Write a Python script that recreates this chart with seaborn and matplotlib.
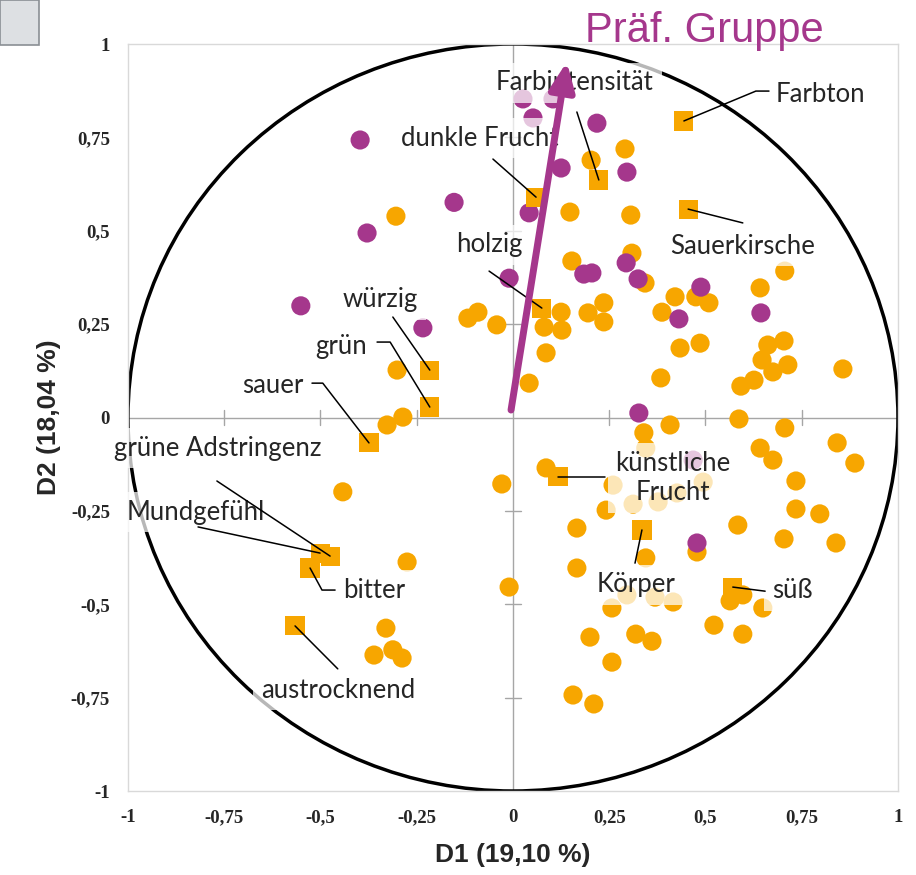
import matplotlib.pyplot as plt
import numpy as np
import pandas as pd
import seaborn as sns
from matplotlib.patches import Circle, Rectangle

# consumers (orange circles)
cons_x = [-0.304, -0.301, -0.327, -0.286, -0.442, -0.275, -0.330, -0.361, -0.312, -0.288,
          0.291, 0.203, 0.148, 0.306, 0.153, 0.309, 0.343, -0.117, -0.091, -0.042,
          0.081, 0.125, 0.127, 0.195, 0.236, 0.236, 0.387, 0.421, 0.086, 0.042,
          0.384, 0.340, 0.408,
          0.706, 0.642, 0.475, 0.509, 0.434, 0.486, 0.662, 0.704, 0.647, 0.675,
          0.714, 0.626, 0.592, 0.857, 0.587, 0.706, 0.842, 0.888, 0.642, 0.675,
          0.086, -0.029, 0.735, 0.735, 0.797, 0.242, 0.166, 0.584, 0.704, 0.839,
          0.478, 0.345, 0.166, -0.010, 0.564, 0.597, 0.649, 0.257, 0.522, 0.597,
          0.200, 0.319, 0.361, 0.257, 0.156, 0.210,
          0.260, 0.312, 0.377, 0.426, 0.494, 0.296, 0.369, 0.416, 0.345]
cons_y = [0.539, 0.127, -0.020, 0.001, -0.199, -0.387, -0.564, -0.636, -0.622, -0.644,
          0.719, 0.689, 0.550, 0.542, 0.419, 0.440, 0.360, 0.266, 0.282, 0.248,
          0.242, 0.282, 0.234, 0.280, 0.307, 0.256, 0.282, 0.323, 0.173, 0.092,
          0.106, -0.041, -0.020,
          0.392, 0.347, 0.323, 0.307, 0.186, 0.199, 0.194, 0.205, 0.154, 0.122,
          0.141, 0.100, 0.084, 0.130, -0.004, -0.028, -0.068, -0.122, -0.082, -0.114,
          -0.135, -0.178, -0.170, -0.245, -0.258, -0.248, -0.296, -0.288, -0.325, -0.336,
          -0.360, -0.376, -0.403, -0.454, -0.491, -0.475, -0.510, -0.510, -0.556, -0.580,
          -0.588, -0.580, -0.599, -0.655, -0.743, -0.767,
          -0.181, -0.232, -0.226, -0.202, -0.173, -0.475, -0.481, -0.494, -0.082]

# preference group (purple circles)
pref_x = [-0.397, -0.153, -0.379, -0.551, -0.234, 0.218, 0.125, 0.296, 0.042, -0.010,
          0.184, 0.205, 0.294, 0.325, 0.488, 0.431, 0.644, 0.327, 0.478,
          0.026, 0.104, 0.052, 0.468]
pref_y = [0.743, 0.576, 0.494, 0.299, 0.240, 0.788, 0.668, 0.657, 0.548, 0.373,
          0.384, 0.387, 0.414, 0.371, 0.349, 0.264, 0.280, 0.012, -0.336,
          0.853, 0.853, 0.802, -0.114]

# sensory attributes (orange squares)
attr_names = ["Farbton", "Sauerkirsche", "Farbintensität", "dunkle Frucht", "holzig",
              "würzig", "grün", "sauer", "grüne Adstringenz", "Mundgefühl", "bitter",
              "austrocknend", "künstliche\nFrucht", "Körper", "süß"]
attr_x = [0.444, 0.455, 0.223, 0.060, 0.075, -0.216, -0.216, -0.374, -0.475, -0.501,
          -0.527, -0.566, 0.117, 0.335, 0.571]
attr_y = [0.794, 0.558, 0.636, 0.590, 0.293, 0.127, 0.028, -0.068, -0.371, -0.363,
          -0.403, -0.558, -0.159, -0.301, -0.454]

# supplementary variable vector
vec_start = (-0.005, 0.020)
vec_end = (0.140, 0.952)
vec_name = "Präf. Gruppe"

# label layout: text position, alignment, leader path (from the square)
label_layout = {
    "Farbton": ((0.683, 0.866), "left", [(0.631, 0.874), (0.665, 0.874)]),
    "Sauerkirsche": ((0.597, 0.459), "center", [(0.597, 0.521)]),
    "Farbintensität": ((0.161, 0.896), "center", [(0.166, 0.818)]),
    "dunkle Frucht": ((-0.086, 0.748), "center", [(-0.052, 0.692)]),
    "holzig": ((-0.062, 0.462), "center", [(-0.062, 0.392)]),
    "würzig": ((-0.345, 0.315), "center", [(-0.312, 0.269)]),
    "grün": ((-0.379, 0.189), "right", [(-0.319, 0.202), (-0.353, 0.202)]),
    "sauer": ((-0.545, 0.087), "right", [(-0.494, 0.092), (-0.522, 0.092)]),
    "grüne Adstringenz": ((-0.766, -0.082), "center", [(-0.769, -0.170)]),
    "Mundgefühl": ((-0.823, -0.253), "center", [(-0.818, -0.293)]),
    "bitter": ((-0.442, -0.462), "left", [(-0.496, -0.462), (-0.462, -0.462)]),
    "austrocknend": ((-0.455, -0.730), "center", [(-0.455, -0.673)]),
    "künstliche\nFrucht": ((0.416, -0.162), "center", [(0.239, -0.159)]),
    "Körper": ((0.319, -0.448), "center", [(0.317, -0.390)]),
    "süß": ((0.673, -0.464), "left", [(0.655, -0.465)]),
}

orange = "#f7a600"
purple = "#a5378c"

df = pd.concat([
    pd.DataFrame({"D1": cons_x, "D2": cons_y, "Typ": "Konsument"}),
    pd.DataFrame({"D1": pref_x, "D2": pref_y, "Typ": "Präf. Gruppe"}),
    pd.DataFrame({"D1": attr_x, "D2": attr_y, "Typ": "Attribut"}),
], ignore_index=True)

sns.set_style("white")
plt.rcParams["font.family"] = ["Liberation Sans", "DejaVu Sans"]

fig = plt.figure(figsize=(9.16, 8.75), dpi=100)
ax = fig.add_axes([0.1397, 0.096, 0.8406, 0.8537])

sns.scatterplot(
    data=df, x="D1", y="D2", hue="Typ", style="Typ",
    palette={"Konsument": orange, "Präf. Gruppe": purple, "Attribut": orange},
    markers={"Konsument": "o", "Präf. Gruppe": "o", "Attribut": "s"},
    s=190, linewidth=0, legend=False, ax=ax, zorder=2,
)

# correlation circle and axes through origin
ax.add_patch(Circle((0, 0), 1, fill=False, lw=2.5, color="black", zorder=1))
ax.axhline(0, color="#a6a6a6", lw=1, zorder=0)
ax.axvline(0, color="#a6a6a6", lw=1, zorder=0)
ticks = np.arange(-1, 1.01, 0.25)
for t in ticks:
    if abs(t) < 1e-9 or abs(abs(t) - 1) < 1e-9:
        continue
    ax.plot([-0.02, 0.02], [t, t], color="#a6a6a6", lw=1, zorder=0)
    ax.plot([t, t], [-0.02, 0.02], color="#a6a6a6", lw=1, zorder=0)

# labels with leader lines
for name, x, y in zip(attr_names, attr_x, attr_y):
    (tx, ty), ha, path = label_layout[name]
    px = [x] + [p[0] for p in path]
    py = [y] + [p[1] for p in path]
    ax.plot(px, py, color="black", lw=1.1, zorder=4)
    ax.text(tx, ty, name, ha=ha, va="center", fontsize=18.5, family=["Lato", "DejaVu Sans"],
            linespacing=1.2, zorder=3,
            bbox=dict(boxstyle="square,pad=0.3", fc="white", ec="none", alpha=0.72))

# supplementary vector
ax.annotate("", xy=vec_end, xytext=vec_start,
            arrowprops=dict(arrowstyle="-|>,head_length=0.85,head_width=0.38",
                            lw=5, color=purple, mutation_scale=20,
                            shrinkA=0, shrinkB=0), zorder=5)
ax.text(0.187, 1.035, vec_name, color=purple, fontsize=30, ha="left", va="center",
        clip_on=False)

ax.set_xlim(-1, 1)
ax.set_ylim(-1, 1)
labels = [("%g" % t).replace(".", ",") for t in ticks]
ax.set_xticks(ticks)
ax.set_yticks(ticks)
ax.set_xticklabels(labels, family=["Liberation Serif"], fontweight="bold", fontsize=13.5)
ax.set_yticklabels(labels, family=["Liberation Serif"], fontweight="bold", fontsize=13.5)
ax.tick_params(length=0, pad=13)
ax.set_xlabel("D1 (19,10 %)", fontsize=19, fontweight="bold", labelpad=12)
ax.set_ylabel("D2 (18,04 %)", fontsize=19, fontweight="bold", labelpad=7)
for sp in ax.spines.values():
    sp.set_color("#d9d9d9")
    sp.set_linewidth(1)

# grey box in the top-left corner
fig.patches.append(Rectangle((0, 1 - 45 / 875), 39 / 916, 45 / 875, transform=fig.transFigure,
                             fc="#dde0e3", ec="#8a8f94", lw=1.2))

fig.savefig("out.png", dpi=100)
